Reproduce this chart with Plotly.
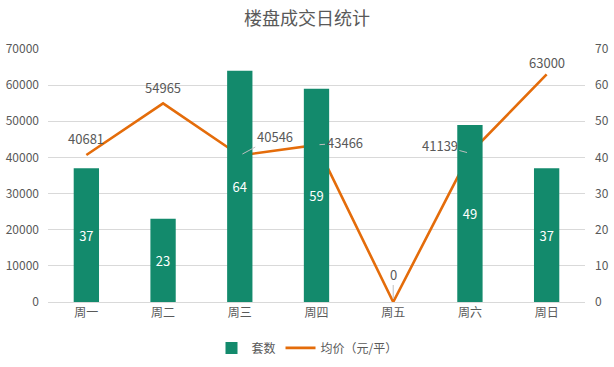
import plotly.graph_objects as go

categories = ["周一", "周二", "周三", "周四", "周五", "周六", "周日"]
counts = [37, 23, 64, 59, 0, 49, 37]
prices = [40681, 54965, 40546, 43466, 0, 41139, 63000]

green = "#138A6C"
orange = "#E46C0A"
txt = "#595959"
font = "Noto Sans CJK SC, Microsoft YaHei, sans-serif"

fig = go.Figure()
fig.add_trace(go.Bar(
    x=categories, y=counts, name="套数", yaxis="y2",
    marker=dict(color=green, line=dict(width=0)),
    width=0.33,
    text=[str(c) if c else "" for c in counts], textposition="inside",
    insidetextanchor="middle",
    textfont=dict(color="white", size=13, family=font),
))
fig.add_trace(go.Scatter(
    x=categories, y=prices, name="均价（元/平）", mode="lines",
    line=dict(color=orange, width=2.6), yaxis="y",
))

# label offsets (px) for line data labels
offsets = [(0, -16, False), (0, -16, False), (35, -19, True), (28, -2, True),
           (0, -28, True), (-30, -8, True), (0, -12, False)]
for c, p, (dx, dy, arrow) in zip(categories, prices, offsets):
    if arrow:
        fig.add_annotation(x=c, y=p, xref="x", yref="y", text=str(p),
                           showarrow=True, arrowhead=0, arrowwidth=1,
                           arrowcolor="#bfbfbf", ax=dx, ay=dy, standoff=3,
                           font=dict(size=13, color=txt, family=font))
    else:
        fig.add_annotation(x=c, y=p, xref="x", yref="y", text=str(p),
                           showarrow=False, yshift=-dy,
                           font=dict(size=13, color=txt, family=font))

fig.update_layout(
    width=614, height=367,
    margin=dict(l=48, r=29, t=49, b=65),
    paper_bgcolor="white", plot_bgcolor="white",
    title=dict(text="楼盘成交日统计", x=0.5, xanchor="center", y=0.95,
               yanchor="middle",
               font=dict(size=18, color=txt, family=font)),
    font=dict(family=font, color=txt, size=12),
    xaxis=dict(showgrid=False, showline=True, linecolor="#d9d9d9",
               tickfont=dict(size=12, color=txt), ticks="",
               automargin=False),
    yaxis=dict(range=[0, 70000], dtick=10000, tickformat="d", showgrid=True,
               gridcolor="#d9d9d9", zeroline=False,
               tickfont=dict(size=12, color=txt), ticks="",
               ticklabelstandoff=8, automargin=False),
    yaxis2=dict(range=[0, 70], dtick=10, overlaying="y", side="right",
                showgrid=False, zeroline=False,
                tickfont=dict(size=12, color=txt), ticks="",
                ticklabelstandoff=9, automargin=False),
    legend=dict(orientation="h", x=0.5, xanchor="center", xref="container",
                y=0.052, yanchor="middle", yref="container",
                font=dict(size=12, color=txt)),
    showlegend=True,
)

fig.write_html("out.html", post_script="document.body.style.margin='0';",
               config={"displayModeBar": False})
